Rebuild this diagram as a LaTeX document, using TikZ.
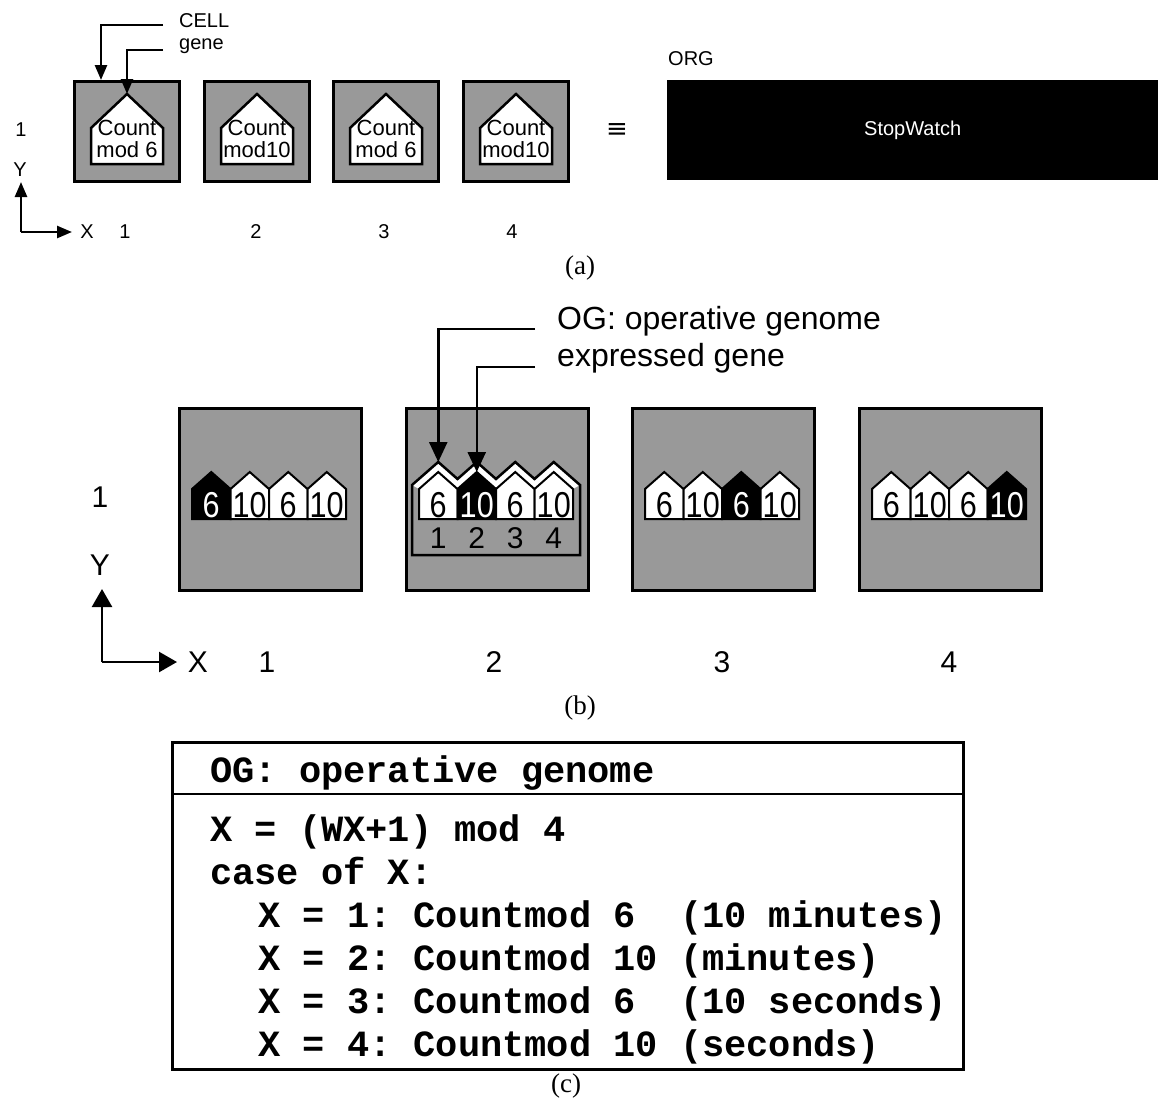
\documentclass[tikz,border=0pt]{standalone}
\usepackage{fontspec}
\setmainfont{Liberation Sans}
\newfontfamily\capfont{Liberation Serif}
\newfontfamily\codefont{Liberation Mono}
\newfontfamily\symfont{DejaVu Sans}
\usetikzlibrary{arrows.meta}
\frenchspacing

\tikzset{
  cellbox/.style={draw=black, line width=2.5pt, fill=black!40, inner sep=0pt, anchor=north west},
  housebox/.style={draw=black, line width=2.5pt, fill=white, line join=miter},
  genebox/.style={draw=black, line width=2pt, line join=miter},
  pointer/.style={line width=2.5pt, -{Triangle[width=12pt,length=15pt]}},
  bigpointer/.style={line width=2.5pt, -{Triangle[width=18pt,length=20pt]}},
  smalltxt/.style={font=\fontsize{20}{22}\selectfont, inner sep=0pt},
  housetxt/.style={font=\fontsize{22}{22}\selectfont, inner sep=0pt, align=center},
  bigtxt/.style={font=\fontsize{30}{32}\selectfont, inner sep=0pt},
  labeltxt/.style={font=\fontsize{32}{36}\selectfont, inner sep=0pt, anchor=west},
  genetxt/.style={font=\fontsize{36}{36}\selectfont, inner sep=0pt},
  captxt/.style={font=\capfont\fontsize{27}{27}\selectfont, inner sep=0pt},
  codetxt/.style={font=\codefont\bfseries\fontsize{37}{40}\selectfont, inner sep=0pt, anchor=base west},
}

\begin{document}
\begin{tikzpicture}[x=1pt, y=-1pt]
\useasboundingbox (0,0) rectangle (1158,1101);

% ---------------- (a) cells holding one gene each ----------------
\foreach \i/\L/\m in {1/73/mod 6, 2/203/mod10, 3/332/mod 6, 4/462/mod10}{
  \node[cellbox, minimum width=105pt, minimum height=100pt] (acell\i) at (\L,80) {};
  \draw[housebox] ({\L+18},164) -- ({\L+18},128) -- ({\L+54},94) coordinate (apeak\i)
        -- ({\L+90},128) -- ({\L+90},164) -- cycle;
  \node[housetxt] (ahouse\i) at ({\L+54},139) {Count\\\m};
}

\node[smalltxt, anchor=west] (celllbl) at (179,21) {CELL};
\node[smalltxt, anchor=west] (genelbl) at (179,46) {gene};
\coordinate (cellstart) at (163,25);
\coordinate (genestart) at (163,50);
\draw[pointer] (cellstart) -| ([xshift=28pt]acell1.north west);
\draw[pointer] (genestart) -| (apeak1);

\node[smalltxt] (arow) at (21,130) {1};
\node[smalltxt] (aylbl) at (20,170) {Y};
\coordinate (aorigin) at (21,232);
\coordinate (ayend) at (21,182);
\coordinate (axend) at (72,232);
\draw[pointer] (aorigin) -- (ayend);
\draw[pointer] (aorigin) -- (axend);
\node[smalltxt] (axlbl) at (87,232) {X};
\foreach \k/\x in {1/125, 2/256, 3/384, 4/512}{
  \node[smalltxt] (acol\k) at (\x,232) {\k};
}

\node[font=\symfont\fontsize{26}{26}\selectfont, inner sep=0pt] (equiv) at (617,131) {≡};
\node[smalltxt, anchor=west] (orglbl) at (668,59) {ORG};
\node[fill=black, text=white, inner sep=0pt, anchor=north west, minimum width=491pt,
      minimum height=100pt, font=\fontsize{20}{22}\selectfont] (org) at (667,80) {StopWatch};

\node[captxt] (capa) at (580,268) {(a)};

% ---------------- (b) cells holding the whole genome ----------------
\foreach \i/\L in {1/178, 2/405, 3/631, 4/858}{
  \node[cellbox, minimum width=182pt, minimum height=182pt] (bcell\i) at (\L,407) {};
}

% operative genome outline in cell 2
\fill[white] (412,485) -- (438.25,462) -- (457.5,479) -- (476.75,462) -- (496,479)
   -- (515.25,462) -- (534.5,479) -- (553.75,462) -- (580,485)
   -- (573,489) -- (553.75,472) -- (534.5,489) -- (515.25,472) -- (496,489)
   -- (476.75,472) -- (457.5,489) -- (438.25,472) -- (419,489) -- cycle;
\draw[line width=2.5pt, line join=miter] (412,555) -- (412,485) -- (438.25,462) coordinate (ogpeak)
   -- (457.5,479) -- (476.75,462) -- (496,479) -- (515.25,462) -- (534.5,479)
   -- (553.75,462) -- (580,485) -- (580,555) -- cycle;

% genes: the expressed one in each cell is black
\foreach \i/\L in {1/178, 2/405, 3/631, 4/858}{
  \foreach \j in {1,2,3,4}{
    \pgfmathsetmacro\gl{\L+14+(\j-1)*38.5}
    \pgfmathsetmacro\gc{\gl+19.25}
    \pgfmathsetmacro\gr{\gl+38.5}
    \ifnum\i=\j \def\gfill{black}\else \def\gfill{white}\fi
    \draw[genebox, fill=\gfill] (\gl,519) -- (\gl,489) -- (\gc,472) coordinate (bpeak\i-\j)
       -- (\gr,489) -- (\gr,519) -- cycle;
  }
}
\foreach \i/\L in {1/178, 2/405, 3/631, 4/858}{
  \foreach \j/\t in {1/6, 2/10, 3/6, 4/10}{
    \pgfmathsetmacro\gc{\L+14+(\j-1)*38.5+19.25}
    \ifnum\i=\j \def\gtext{white}\else \def\gtext{black}\fi
    \node[genetxt, text=\gtext] (btxt\i-\j) at (\gc,505) {\scalebox{0.85}[1]{\t}};
  }
}
\foreach \j in {1,2,3,4}{
  \pgfmathsetmacro\gc{405+14+(\j-1)*38.5+19.25}
  \node[bigtxt] (bnum\j) at (\gc,538) {\j};
}

\node[labeltxt] (oglbl) at (557,321) {OG: operative genome};
\node[labeltxt] (exlbl) at (557,358) {expressed gene};
\coordinate (ogstart) at (535,329);
\coordinate (exstart) at (535,367);
\draw[bigpointer] (ogstart) -| (ogpeak);
\draw[bigpointer] (exstart) -| (bpeak2-2);

\node[bigtxt] (brow) at (100,497) {1};
\node[bigtxt] (bylbl) at (100,565) {Y};
\coordinate (borigin) at (102,662);
\coordinate (byend) at (102,589);
\coordinate (bxend) at (177,662);
\draw[line width=2.5pt, -{Triangle[width=20pt,length=18pt]}] (borigin) -- (byend);
\draw[line width=2.5pt, -{Triangle[width=20pt,length=18pt]}] (borigin) -- (bxend);
\node[bigtxt] (bxlbl) at (198,662) {X};
\foreach \k/\x in {1/267, 2/494, 3/722, 4/949}{
  \node[bigtxt] (bcol\k) at (\x,662) {\k};
}

\node[captxt] (capb) at (580,708) {(b)};

% ---------------- (c) the operative genome program ----------------
\node[draw=black, line width=2.5pt, inner sep=0pt, anchor=north west,
      minimum width=791pt, minimum height=327pt] (codebox) at (171,741) {};
\draw[line width=2.5pt] (171,794) -- (962,794);
\node[codetxt] (c0) at (210,782) {OG: operative genome};
\node[codetxt] (c1) at (210,841) {X = (WX+1) mod 4};
\node[codetxt] (c2) at (210,884) {case of X:};
\node[codetxt] (c3) at (258,927) {X = 1: Countmod 6\ \ (10 minutes)};
\node[codetxt] (c4) at (258,970) {X = 2: Countmod 10 (minutes)};
\node[codetxt] (c5) at (258,1013) {X = 3: Countmod 6\ \ (10 seconds)};
\node[codetxt] (c6) at (258,1056) {X = 4: Countmod 10 (seconds)};

\node[captxt] (capc) at (566,1086) {(c)};
\end{tikzpicture}
\end{document}
